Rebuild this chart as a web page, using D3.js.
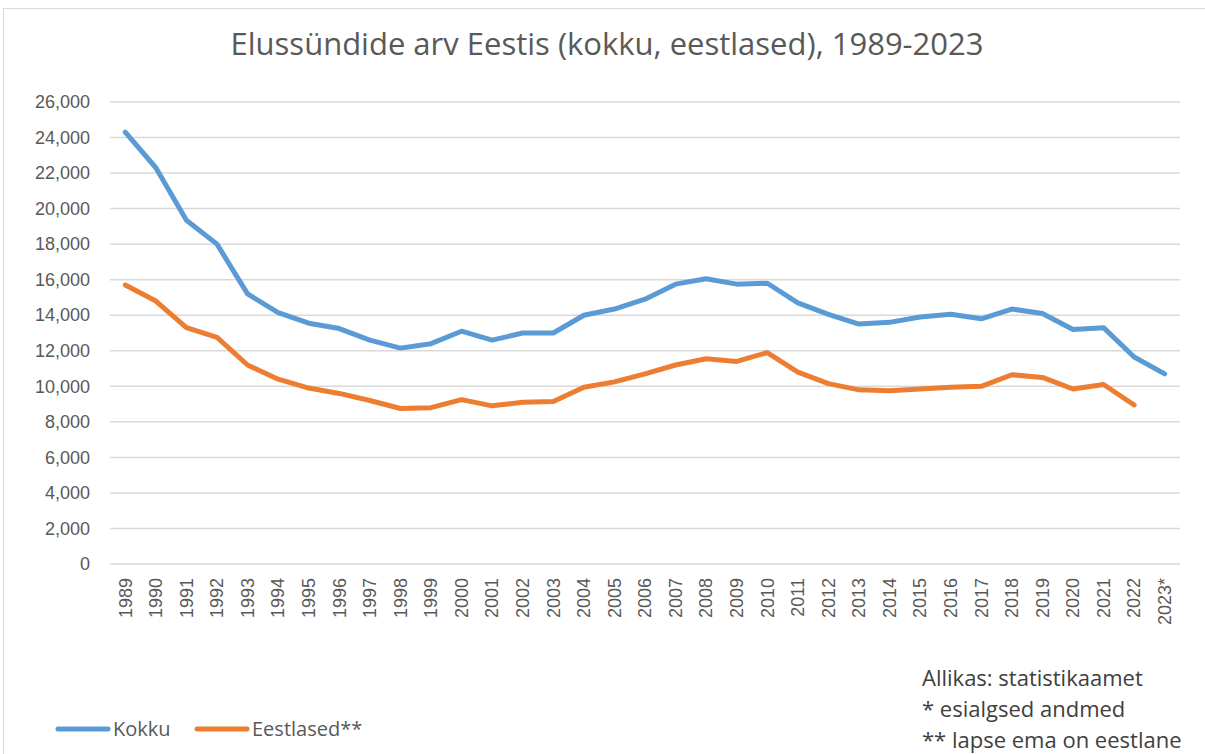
<!DOCTYPE html>
<html>
<head>
<meta charset="utf-8">
<script src="https://cdn.jsdelivr.net/npm/d3@7"></script>
<style>
  body { margin: 0; background: #fff; }
  svg text { font-family: "Open Sans", sans-serif; }
</style>
</head>
<body>
<svg width="1205" height="754"></svg>
<script>
var years = ["1989","1990","1991","1992","1993","1994","1995","1996","1997","1998","1999",
  "2000","2001","2002","2003","2004","2005","2006","2007","2008","2009","2010","2011",
  "2012","2013","2014","2015","2016","2017","2018","2019","2020","2021","2022","2023*"];
var kokku = [24300, 22300, 19350, 18000, 15200, 14150, 13550, 13250, 12600, 12150, 12400,
  13100, 12600, 13000, 13000, 14000, 14350, 14900, 15750, 16050, 15750, 15800, 14700,
  14050, 13500, 13600, 13900, 14050, 13800, 14350, 14100, 13200, 13300, 11650, 10700];
var eestlased = [15700, 14800, 13300, 12750, 11200, 10400, 9900, 9600, 9200, 8750, 8800,
  9250, 8900, 9100, 9150, 9950, 10250, 10700, 11200, 11550, 11400, 11900, 10800,
  10150, 9800, 9750, 9850, 9950, 10000, 10650, 10500, 9850, 10100, 8950, null];
var yTicks = d3.range(0, 26001, 2000);
var seriesNames = ["Kokku", "Eestlased**"];
var seriesColors = ["#5b9bd5", "#ed7d31"];
var notes = ["Allikas: statistikaamet", "* esialgsed andmed", "** lapse ema on eestlane"];

var svg = d3.select("svg");

// chart frame
svg.append("rect")
    .attr("x", 3.5).attr("y", 8.5)
    .attr("width", 1220).attr("height", 760)
    .attr("fill", "none")
    .attr("stroke", "#d9d9d9");

var x = d3.scaleBand().domain(years).range([110, 1180]);
var y = d3.scaleLinear().domain([0, 26000]).range([564, 102]);

svg.append("text")
    .attr("x", 607).attr("y", 55)
    .attr("text-anchor", "middle")
    .attr("fill", "#595959")
    .attr("font-size", 31)
    .text("Elussündide arv Eestis (kokku, eestlased), 1989-2023");

// gridlines
svg.append("g")
  .selectAll("line")
  .data(yTicks)
  .enter().append("line")
    .attr("x1", 110).attr("x2", 1180)
    .attr("y1", function(d) { return y(d); })
    .attr("y2", function(d) { return y(d); })
    .attr("stroke", "#d9d9d9")
    .attr("stroke-width", 1.5);

var yAxis = svg.append("g")
    .attr("transform", "translate(110,0)")
    .call(d3.axisLeft(y).tickValues(yTicks).tickSize(0).tickPadding(20)
      .tickFormat(d3.format(",")));
yAxis.select(".domain").remove();
yAxis.selectAll("text")
    .attr("fill", "#595959")
    .attr("font-size", 18)
    .style("font-family", "'Liberation Sans', Arial, sans-serif");

var xAxis = svg.append("g")
    .attr("transform", "translate(0,564)")
    .call(d3.axisBottom(x).tickSize(0));
xAxis.select(".domain").remove();
xAxis.selectAll("text")
    .attr("fill", "#595959")
    .attr("font-size", 18)
    .style("font-family", "'Liberation Sans', Arial, sans-serif")
    .attr("text-anchor", "end")
    .attr("transform", "rotate(-90)")
    .attr("x", -14)
    .attr("y", 0)
    .attr("dy", "0.35em");

var line = d3.line()
    .defined(function(d) { return d != null; })
    .x(function(d, i) { return x(years[i]) + x.bandwidth() / 2; })
    .y(function(d) { return y(d); });

[kokku, eestlased].forEach(function(s, i) {
  svg.append("path")
      .datum(s)
      .attr("fill", "none")
      .attr("stroke", seriesColors[i])
      .attr("stroke-width", 5)
      .attr("stroke-linejoin", "round")
      .attr("stroke-linecap", "round")
      .attr("d", line);
});

// legend
var legX = [58, 197];
seriesNames.forEach(function(n, i) {
  svg.append("line")
      .attr("x1", legX[i]).attr("x2", legX[i] + 50)
      .attr("y1", 729).attr("y2", 729)
      .attr("stroke", seriesColors[i])
      .attr("stroke-width", 5)
      .attr("stroke-linecap", "round");
  svg.append("text")
      .attr("x", legX[i] + 55).attr("y", 736)
      .attr("fill", "#595959")
      .attr("font-size", 20)
      .text(n);
});

svg.append("g")
  .selectAll("text")
  .data(notes)
  .enter().append("text")
    .attr("x", 922)
    .attr("y", function(d, i) { return 686 + i * 31; })
    .attr("fill", "#404040")
    .attr("font-size", 22)
    .text(function(d) { return d; });
</script>
</body>
</html>
